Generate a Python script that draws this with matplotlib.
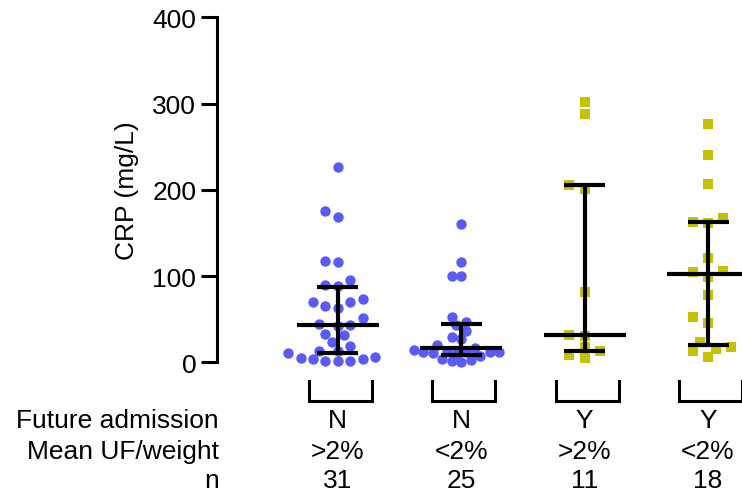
import numpy as np
import matplotlib
matplotlib.use("Agg")
import matplotlib.pyplot as plt

plt.rcParams['font.family'] = ['Liberation Sans', 'DejaVu Sans']
plt.rcParams['font.size'] = 19

# CRP values per group (mg/L)
crp_n_high = [227, 176, 169, 118, 116, 96, 90, 88, 73, 70, 70, 65, 63, 51, 44, 43, 42,
              33, 32, 23, 19, 13, 13, 11, 6, 5, 4, 3.5, 2, 2, 1]
crp_n_low = [160, 116, 100, 100, 53, 47, 43, 36, 29, 27, 20, 17, 14, 13, 12, 12, 12,
             12, 11, 10, 7, 4, 3, 1, 0.5]
crp_y_high = [302, 288, 205, 201, 82, 32, 31, 18, 13, 9, 5]
crp_y_low = [276, 240, 207, 167, 163, 161, 121, 106, 105, 99, 78, 53, 46, 23, 18, 16, 13, 6]
groups = [crp_n_high, crp_n_low, crp_y_high, crp_y_low]

# median and interquartile range bars
medians = [43, 17, 32, 102]
q1 = [11, 8.5, 13, 20]
q3 = [87, 44, 205, 163]

future_admission = ["N", "N", "Y", "Y"]
mean_uf = [">2%", "<2%", ">2%", "<2%"]
n_counts = ["31", "25", "11", "18"]

blue = "#5a5af7"
yellow = "#c5c200"
markers = ["o", "o", "s", "s"]
colors = [blue, blue, yellow, yellow]
sizes = [56, 56, 44, 44]
# swarm spacing (pixels) per group: collision distance, half column step
swarm_diam = [10.0, 9.0, 10.5, 10.5]
swarm_step = [6.2, 4.75, 7.7, 7.7]

W, H = 742, 502
fig = plt.figure(figsize=(W / 100, H / 100), dpi=100)
ax = fig.add_axes([217 / W, (H - 363.3) / H, (W - 217) / W, 345 / H])
ax.set_ylim(0, 400)
ax.set_xlim(-0.978, 3.275)


def swarm_offsets(vals, x0, diam, step):
    """simple beeswarm: place points in pixel space, closest free slot to the centre"""
    pts = ax.transData.transform([(x0, v) for v in vals])
    px_per_unit = ax.transData.transform([(1, 0)])[0, 0] - ax.transData.transform([(0, 0)])[0, 0]
    order = np.argsort(vals)
    placed = []
    offs = np.zeros(len(vals))
    ks = [0]
    for k in range(1, 20):
        ks += [-k, k]
    for i in order:
        y = pts[i, 1]
        for k in ks:
            dx = k * step
            if all((dx - px) ** 2 + (y - py) ** 2 >= diam ** 2 for px, py in placed):
                break
        placed.append((dx, y))
        offs[i] = dx / px_per_unit
    return offs


for i, vals in enumerate(groups):
    offs = swarm_offsets(vals, i, swarm_diam[i], swarm_step[i])
    ax.scatter(i + offs, vals, s=sizes[i], marker=markers[i], color=colors[i],
               linewidths=0, zorder=2, clip_on=False)
    # median line and IQR
    ax.plot([i - 0.332, i + 0.332], [medians[i]] * 2, color="black", lw=3, zorder=3,
            solid_capstyle="butt")
    ax.plot([i, i], [q1[i], q3[i]], color="black", lw=3, zorder=3, solid_capstyle="butt")
    for q in (q1[i], q3[i]):
        ax.plot([i - 0.166, i + 0.166], [q, q], color="black", lw=3, zorder=3,
                solid_capstyle="butt")
    # Prism style x-axis bracket under each group
    bx0, bx1 = i - 0.235, i + 0.275
    ax.plot([bx0, bx0, bx1, bx1], [-21.7, -44.5, -44.5, -21.7], color="black", lw=2.2,
            clip_on=False, solid_joinstyle="miter")

ax.spines["top"].set_visible(False)
ax.spines["right"].set_visible(False)
ax.spines["bottom"].set_visible(False)
ax.spines["left"].set_linewidth(2.2)
ax.set_xticks([])
ax.set_yticks([0, 100, 200, 300, 400])
ax.tick_params(axis="y", length=11.5, width=2.2, pad=3.5)
ax.set_ylabel("CRP (mg/L)", labelpad=9.5)

# table of group labels below the axis
row_y = [428, 459.5, 488.5]
row_names = ["Future admission", "Mean UF/weight", "n"]
rows = [future_admission, mean_uf, n_counts]
for name, ry, labels in zip(row_names, row_y, rows):
    fig.text(219 / W, 1 - ry / H, name, ha="right", va="baseline")
    for i, lab in enumerate(labels):
        xf = fig.transFigure.inverted().transform(ax.transData.transform([(i, 0)]))[0, 0]
        fig.text(xf, 1 - ry / H, lab, ha="center", va="baseline")

fig.savefig("out.png", dpi=100)
